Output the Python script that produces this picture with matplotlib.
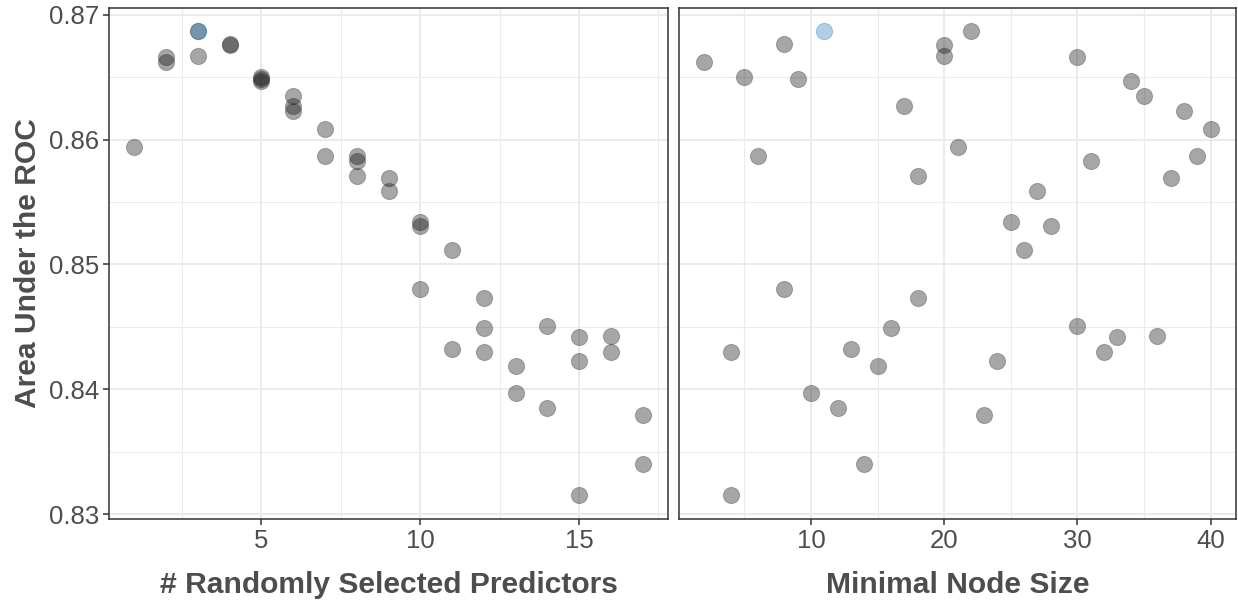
import matplotlib
matplotlib.use("Agg")
import matplotlib.pyplot as plt
import numpy as np

plt.rcParams["font.family"] = ["Liberation Sans", "DejaVu Sans"]

# tuning results: one row per candidate model
mtry = [1, 2, 2, 3, 3, 3, 4, 4, 5, 5, 5, 6, 6, 6, 7, 7, 8, 8, 8, 9,
        9, 10, 10, 10, 11, 11, 12, 12, 12, 13, 13, 14, 14, 15, 15, 15, 16, 16, 17, 17]
min_n = [21, 30, 2, 11, 22, 20, 8, 20, 5, 9, 34, 35, 17, 38, 40, 6, 39, 31, 18, 37,
         27, 25, 28, 8, 26, 13, 18, 16, 32, 15, 10, 30, 12, 33, 24, 4, 36, 4, 23, 14]
roc_auc = [0.8594, 0.8666, 0.8662, 0.8687, 0.8687, 0.8667, 0.8677, 0.8676, 0.8650, 0.8649,
           0.8647, 0.8635, 0.8627, 0.8623, 0.8609, 0.8587, 0.8587, 0.8583, 0.8571, 0.8569,
           0.8559, 0.8534, 0.8531, 0.8480, 0.8512, 0.8432, 0.8473, 0.8449, 0.8430, 0.8419,
           0.8397, 0.8451, 0.8385, 0.8442, 0.8423, 0.8315, 0.8443, 0.8430, 0.8379, 0.8340]
best_row = 3  # mtry = 3, min_n = 11

x_labels = ["# Randomly Selected Predictors", "Minimal Node Size"]
y_label = "Area Under the ROC"

W, H = 1238, 607
fig = plt.figure(figsize=(W / 100, H / 100), dpi=100)

bottom = (H - 519) / H
height = (519 - 7.5) / H
ax_left = fig.add_axes([109 / W, bottom, (668 - 109) / W, height])
ax_right = fig.add_axes([679 / W, bottom, (1236 - 679) / W, height])

auc = np.array(roc_auc)
is_best = np.zeros(len(auc), dtype=bool)
is_best[best_row] = True

panels = [
    (ax_left, np.array(mtry), (0.2, 17.8), [5, 10, 15], [2.5, 7.5, 12.5, 17.5]),
    (ax_right, np.array(min_n), (0.1, 41.9), [10, 20, 30, 40], [5, 15, 25, 35]),
]

for i, (ax, xv, xlim, major, minor) in enumerate(panels):
    ax.scatter(xv[~is_best], auc[~is_best], s=135, facecolor=(0, 0, 0, 0.35),
               edgecolor=(0.25, 0.25, 0.25, 0.35), linewidth=0.8, zorder=3)
    ax.scatter(xv[is_best], auc[is_best], s=135, facecolor=(0.12, 0.47, 0.71, 0.35),
               edgecolor=(0.12, 0.47, 0.71, 0.35), linewidth=0.8, zorder=3)

    ax.set_xlim(*xlim)
    ax.set_ylim(0.8296, 0.8706)
    ax.set_xticks(major)
    ax.set_xticks(minor, minor=True)
    ax.set_yticks([0.83, 0.84, 0.85, 0.86, 0.87])
    ax.set_yticks([0.835, 0.845, 0.855, 0.865], minor=True)
    ax.grid(True, which="major", color="#ebebeb", linewidth=1.4, zorder=0)
    ax.grid(True, which="minor", color="#ebebeb", linewidth=0.8, zorder=0)
    ax.set_axisbelow(True)
    ax.tick_params(which="major", length=4, width=1.1, color="#333333",
                   labelsize=18.5, labelcolor="#4d4d4d", pad=3)
    ax.tick_params(which="minor", length=0)
    for sp in ax.spines.values():
        sp.set_color("#333333")
        sp.set_linewidth(1.1)
    ax.set_xlabel(x_labels[i], fontsize=21.6, fontweight="bold", color="#4d4d4d", labelpad=13)
    if i == 0:
        ax.set_ylabel(y_label, fontsize=21.6, fontweight="bold", color="#4d4d4d", labelpad=5)
        ax.yaxis.set_major_formatter(matplotlib.ticker.FormatStrFormatter("%.2f"))
    else:
        ax.tick_params(axis="y", which="both", length=0, labelleft=False)

plt.savefig("out.png", dpi=100)
